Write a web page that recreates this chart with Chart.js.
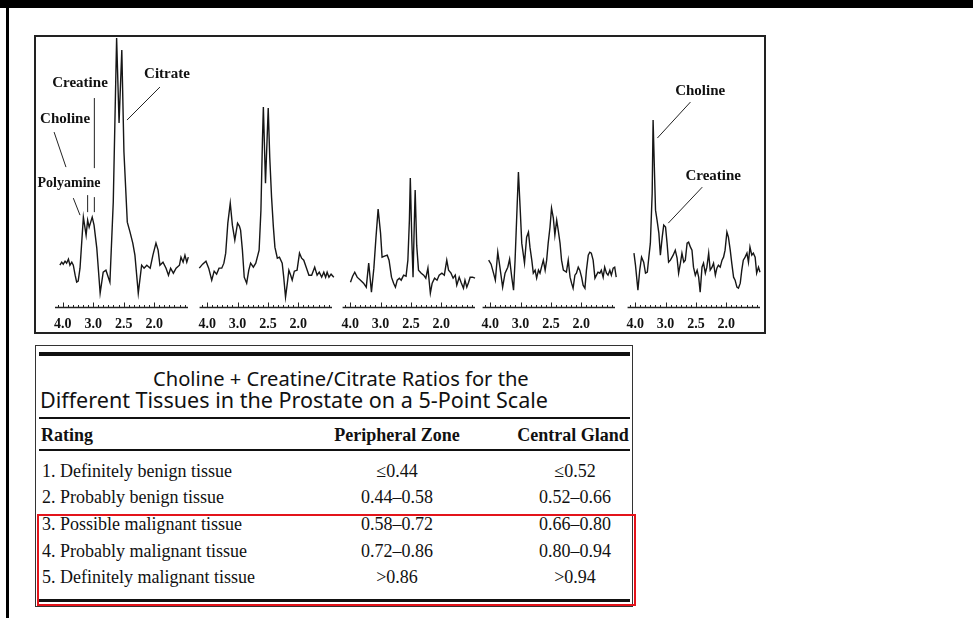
<!DOCTYPE html>
<html>
<head>
<meta charset="utf-8">
<script src="https://cdn.jsdelivr.net/npm/chart.js@4.4.1/dist/chart.umd.min.js"></script>
<style>
  html, body { margin:0; padding:0; background:#fff; }
  body { width:973px; height:618px; position:relative; overflow:hidden; font-family:"Liberation Serif", "Times New Roman", serif; color:#111; }
  .abs { position:absolute; }
  #topbar { left:0; top:0; width:973px; height:8px; background:#000; }
  #leftbar { left:6px; top:0; width:3px; height:618px; background:#000; }
  #specbox { left:34px; top:35px; width:728px; height:295px; border:2px solid #222; }
  canvas.panel { position:absolute; }
  #tbl { left:35px; top:345px; width:596px; height:260px; border:1px solid #333; }
  .rule { position:absolute; left:39px; width:591px; background:#111; }
  .ttl { position:absolute; white-space:nowrap; font-family:"Noto Sans", "Open Sans", sans-serif; font-size:18px; line-height:22px; color:#111; }
  .cell { position:absolute; white-space:nowrap; font-size:18px; line-height:20px; height:20px; color:#111; }
  .hdr { font-weight:bold; }
  .ctr { transform:translateX(-50%); }
  #redbox { left:37px; top:514px; width:599px; height:92px; box-sizing:border-box; border:2px solid #e3141b; }
</style>
</head>
<body>
<div id="topbar" class="abs"></div>
<div id="leftbar" class="abs"></div>
<div id="specbox" class="abs"></div>
<div id="tbl" class="abs"></div>
<div id="tableText"></div>
<div id="redbox" class="abs"></div>

<script>
// ---------------- DATA ----------------
// Axis tick labels (major divisions of each spectrum axis, in ppm)
const tickLabels = ['4.0', '3.0', '2.5', '2.0'];

// Spectra: x = position along the axis in major divisions (0 = "4.0" mark, 3 = "2.0" mark),
//          y = signal intensity (arbitrary units)
const spec1X = [-0.09,-0.03,0.02,0.08,0.13,0.19,0.24,0.30,0.35,0.41,0.46,0.51,0.57,0.68,0.77,0.82,0.87,0.97,1.03,1.12,1.23,1.33,1.42,1.55,1.66,1.77,1.85,1.94,2.01,2.12,2.21,2.30,2.37,2.48,2.59,2.67,2.76,2.87,2.96,3.06,3.13,3.19,3.29,3.39,3.47,3.54,3.63,3.72,3.83,3.88,3.95,4.01,4.07,4.12,4.18];
const spec1Y = [42,45,43,46,44,48,42,45,42,32,25,26,39,90,72,87,80,90,82,59,14,35,37,25,105,269,184,257,155,85,75,64,52,14,42,39,42,39,52,64,57,42,45,39,32,39,34,39,42,50,45,52,45,50,42];

const spec2X = [-0.26,-0.15,-0.04,0.05,0.15,0.23,0.31,0.39,0.48,0.55,0.61,0.68,0.76,0.83,0.91,1.00,1.06,1.10,1.16,1.22,1.30,1.37,1.43,1.52,1.60,1.71,1.77,1.82,1.85,1.92,2.01,2.06,2.12,2.18,2.23,2.31,2.38,2.47,2.52,2.58,2.64,2.69,2.75,2.80,2.87,2.96,3.04,3.11,3.18,3.26,3.35,3.44,3.54,3.62,3.69,3.77,3.84,3.90,3.95,4.01,4.08,4.17];
const spec2Y = [39,43,46,39,27,36,33,39,39,44,54,84,104,82,67,84,81,77,57,30,24,37,44,40,44,57,97,167,200,124,199,150,110,80,60,49,50,44,30,10,24,37,32,27,36,37,54,49,47,40,32,32,40,32,35,30,35,30,35,30,33,30];

const spec3X = [0.01,0.08,0.15,0.23,0.34,0.44,0.53,0.61,0.70,0.78,0.85,0.92,1.00,1.05,1.13,1.22,1.28,1.36,1.43,1.49,1.55,1.62,1.68,1.76,1.84,1.90,1.95,1.98,2.03,2.07,2.11,2.14,2.19,2.25,2.34,2.42,2.49,2.56,2.64,2.70,2.78,2.86,2.93,3.02,3.10,3.18,3.24,3.32,3.39,3.46,3.51,3.59,3.65,3.73,3.78,3.84,3.90,3.95,4.03,4.11,4.18,4.25];
const spec3Y = [25,31,35,30,27,24,20,44,15,39,70,98,74,50,51,52,47,30,24,20,27,29,27,32,31,47,87,129,67,30,82,117,62,37,34,32,29,39,14,24,29,27,32,34,32,47,37,34,29,32,22,30,25,19,27,20,25,30,30,29,31,27];

const spec4X = [-0.05,0.03,0.11,0.17,0.25,0.32,0.41,0.49,0.58,0.64,0.71,0.77,0.82,0.87,0.93,0.99,1.04,1.13,1.20,1.26,1.31,1.37,1.42,1.48,1.53,1.59,1.64,1.69,1.75,1.81,1.86,1.91,1.97,2.02,2.08,2.13,2.19,2.24,2.30,2.35,2.41,2.51,2.57,2.63,2.68,2.73,2.79,2.84,2.90,2.95,3.01,3.06,3.12,3.17,3.23,3.28,3.33,3.39,3.45,3.50,3.55,3.61,3.66,3.72,3.77,3.83,3.88,3.94,3.99,4.05,4.10,4.15,4.21,4.26,4.32];
const spec4Y = [47,43,34,27,55,40,20,34,40,48,30,17,47,87,135,97,64,44,70,75,60,47,34,37,29,37,34,40,47,37,47,64,80,99,89,72,87,77,64,47,37,35,47,30,24,19,32,34,40,37,30,22,19,37,52,55,54,47,29,32,35,34,37,30,40,34,32,37,32,39,40,30,27,27,25];

const spec5X = [-0.04,0.01,0.09,0.15,0.21,0.28,0.34,0.40,0.45,0.50,0.56,0.59,0.64,0.67,0.72,0.78,0.83,0.89,0.94,1.00,1.05,1.10,1.16,1.25,1.32,1.38,1.43,1.49,1.54,1.60,1.65,1.71,1.76,1.82,1.87,1.92,1.98,2.04,2.09,2.14,2.20,2.25,2.31,2.36,2.42,2.47,2.53,2.58,2.64,2.69,2.74,2.80,2.86,2.91,2.96,3.02,3.07,3.13,3.18,3.24,3.29,3.35,3.40,3.46,3.51,3.56,3.62,3.68,3.73,3.78,3.84,3.89,3.95,4.00,4.06,4.11,4.17,4.23];
const spec5Y = [54,42,17,37,50,45,34,35,50,64,114,187,130,97,87,74,52,70,82,80,64,45,47,52,57,49,34,44,54,45,47,64,65,60,57,40,32,37,30,15,40,44,34,40,54,37,40,44,32,39,42,40,47,50,57,75,70,57,44,30,27,20,19,24,37,47,50,54,45,60,52,54,50,34,40,35,37,39];

// Peak labels (panel index, text, anchor in data units)
const peakLabels = [
  { panel:0, text:'Creatine',  x:0.57, y:224, size:15 },
  { panel:0, text:'Choline',   x:0.08, y:188, size:15 },
  { panel:0, text:'Polyamine', x:0.21, y:124, size:14 },
  { panel:0, text:'Citrate',   x:3.42, y:233, size:15 },
  { panel:4, text:'Choline',   x:2.14, y:216, size:15 },
  { panel:4, text:'Creatine',  x:2.57, y:131, size:15 }
];
// Leader lines pointing to the peaks (data units)
const leaderLines = [
  { panel:0, x1:1.04, y1:209, x2:1.04, y2:139 },
  { panel:0, x1:1.04, y1:110, x2:1.04, y2:95 },
  { panel:0, x1:-0.28, y1:175, x2:0.11, y2:140 },
  { panel:0, x1:0.82, y1:112, x2:0.82, y2:95 },
  { panel:0, x1:0.35, y1:109, x2:0.57, y2:92 },
  { panel:0, x1:3.19, y1:220, x2:2.11, y2:187 },
  { panel:4, x1:1.82, y1:205, x2:0.73, y2:169 },
  { panel:4, x1:2.21, y1:120, x2:1.09, y2:84 }
];

// Table
const tableTitle = ['Choline + Creatine/Citrate Ratios for the', 'Different Tissues in the Prostate on a 5-Point Scale'];
const tableHeader = ['Rating', 'Peripheral Zone', 'Central Gland'];
const ratings = ['1. Definitely benign tissue', '2. Probably benign tissue', '3. Possible malignant tissue', '4. Probably malignant tissue', '5. Definitely malignant tissue'];
const peripheralZone = ['\u22640.44', '0.44\u20130.58', '0.58\u20130.72', '0.72\u20130.86', '>0.86'];
const centralGland = ['\u22640.52', '0.52\u20130.66', '0.66\u20130.80', '0.80\u20130.94', '>0.94'];

// ---------------- LAYOUT (not data) ----------------
const spectraX = [spec1X, spec2X, spec3X, spec4X, spec5X];
const spectraY = [spec1Y, spec2Y, spec3Y, spec4Y, spec5Y];
const areaLeft = [55, 199, 342, 482, 627];   // chart-area left edge of each panel
const areaWidth = 133;
const pads = [[22, 8], [6, 8], [6, 8], [6, 8], [6, 8]];
const canvasTop = 36;
const canvasHeight = 306;
const axisRange = { min: -0.25, max: 4.11 };
const yMax = 271;

const SERIF = '"Liberation Serif", "Times New Roman", serif';

const spectrumAxis = {
  id: 'spectrumAxis',
  afterDraw(chart) {
    const { ctx, chartArea } = chart;
    const xs = chart.scales.x;
    const yb = Math.round(chartArea.bottom) + 0.5;
    ctx.save();
    ctx.strokeStyle = '#222';
    ctx.lineWidth = 1.3;
    ctx.beginPath(); ctx.moveTo(xs.left, yb); ctx.lineTo(xs.right, yb); ctx.stroke();
    ctx.lineWidth = 1;
    xs.ticks.forEach(t => {
      const px = Math.round(xs.getPixelForValue(t.value)) + 0.5;
      const major = t.label !== '' && t.label !== undefined;
      ctx.beginPath(); ctx.moveTo(px, yb); ctx.lineTo(px, yb - (major ? 5 : 2.5)); ctx.stroke();
    });
    ctx.restore();
  }
};

const peakNotes = {
  id: 'peakNotes',
  afterDatasetsDraw(chart, args, opts) {
    const { ctx } = chart;
    const xs = chart.scales.x, ys = chart.scales.y;
    ctx.save();
    ctx.strokeStyle = '#222';
    ctx.lineWidth = 1;
    leaderLines.filter(l => l.panel === opts.panel).forEach(l => {
      ctx.beginPath();
      ctx.moveTo(xs.getPixelForValue(l.x1), ys.getPixelForValue(l.y1));
      ctx.lineTo(xs.getPixelForValue(l.x2), ys.getPixelForValue(l.y2));
      ctx.stroke();
    });
    ctx.fillStyle = '#111';
    ctx.textAlign = 'center';
    ctx.textBaseline = 'middle';
    peakLabels.filter(p => p.panel === opts.panel).forEach(p => {
      ctx.font = 'bold ' + p.size + 'px ' + SERIF;
      ctx.fillText(p.text, xs.getPixelForValue(p.x), ys.getPixelForValue(p.y));
    });
    ctx.restore();
  }
};

for (let i = 0; i < 5; i++) {
  const cv = document.createElement('canvas');
  cv.className = 'panel';
  const w = areaWidth + pads[i][0] + pads[i][1];
  const h = canvasHeight;
  cv.width = w; cv.height = h;
  cv.style.left = (areaLeft[i] - pads[i][0]) + 'px';
  cv.style.top = canvasTop + 'px';
  cv.style.width = w + 'px'; cv.style.height = h + 'px';
  document.body.appendChild(cv);

  const pts = spectraX[i].map((x, k) => ({ x: x, y: spectraY[i][k] }));
  new Chart(cv, {
    type: 'line',
    data: { datasets: [{ data: pts, borderColor: '#161616', borderWidth: 1.4, pointRadius: 0, tension: 0, clip: false, fill: false }] },
    options: {
      responsive: false,
      animation: false,
      layout: { padding: { left: pads[i][0], right: pads[i][1], top: 0, bottom: 0 } },
      plugins: { legend: { display: false }, tooltip: { enabled: false }, peakNotes: { panel: i } },
      scales: {
        x: {
          type: 'linear', min: axisRange.min, max: axisRange.max,
          grid: { display: false, drawTicks: false },
          border: { display: false },
          afterBuildTicks: (s) => {
            const t = [];
            for (let k = -1; k <= 24; k++) t.push({ value: k / 6 });
            s.ticks = t;
          },
          ticks: {
            autoSkip: false, maxRotation: 0, padding: 9, color: '#111',
            font: { family: SERIF, size: 14, weight: 'bold', lineHeight: 1.2 },
            callback: (v) => {
              const k = Math.round(v);
              return (Math.abs(v - k) < 1e-6 && k >= 0 && k < tickLabels.length) ? tickLabels[k] : '';
            }
          }
        },
        y: { display: false, min: 0, max: yMax }
      }
    },
    plugins: [spectrumAxis, peakNotes]
  });
}

// ---------------- TABLE ----------------
const tt = document.getElementById('tableText');
function add(cls, text, left, centerY) {
  const d = document.createElement('div');
  d.className = cls;
  d.textContent = text;
  d.style.left = left + 'px';
  d.style.top = (centerY - 10) + 'px';
  tt.appendChild(d);
  return d;
}
function rule(top, h) {
  const d = document.createElement('div');
  d.className = 'rule';
  d.style.top = top + 'px';
  d.style.height = h + 'px';
  tt.appendChild(d);
}
rule(352, 4);
rule(417, 2);
rule(449, 2);
rule(599, 3);

const titleGeom = [[153, 376, 378], [40, 508, 400]];
tableTitle.forEach((t, i) => {
  const d = document.createElement('div');
  d.className = 'ttl';
  d.textContent = t;
  d.style.left = titleGeom[i][0] + 'px';
  d.style.top = (titleGeom[i][2] - 11) + 'px';
  tt.appendChild(d);
  const w = d.getBoundingClientRect().width;
  d.style.fontSize = (18 * titleGeom[i][1] / w).toFixed(2) + 'px';
});

const colPZ = 397, colCG = 573;
add('cell hdr', tableHeader[0], 41, 435);
add('cell hdr ctr', tableHeader[1], colPZ, 435);
add('cell hdr ctr', tableHeader[2], colCG, 435);
const rowY = [471, 497, 524, 551, 577];
ratings.forEach((r, i) => {
  add('cell', r, 42, rowY[i]);
  add('cell ctr', peripheralZone[i], colPZ, rowY[i]);
  add('cell ctr', centralGland[i], colCG + 2, rowY[i]);
});
</script>
</body>
</html>
